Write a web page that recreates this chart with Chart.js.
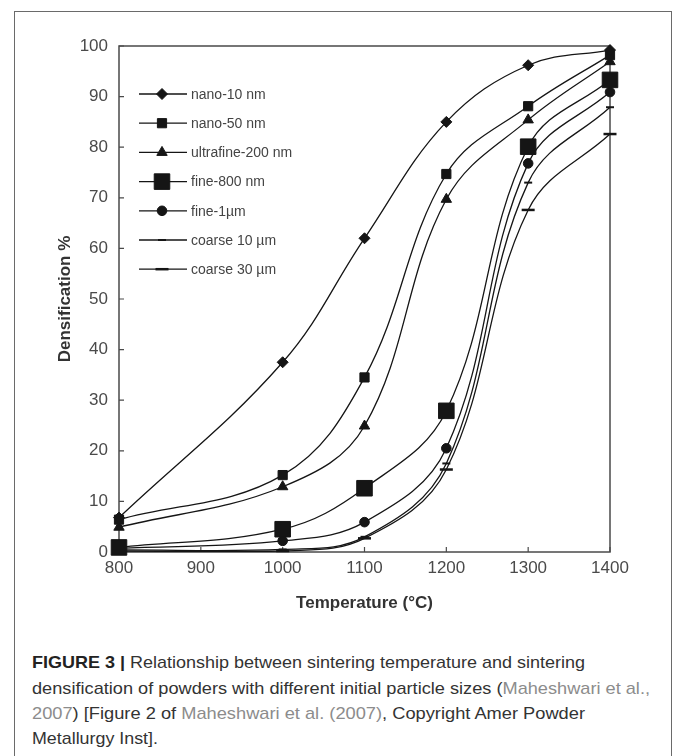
<!DOCTYPE html>
<html>
<head>
<meta charset="utf-8">
<script src="https://cdn.jsdelivr.net/npm/chart.js@4.4.1/dist/chart.umd.min.js"></script>
<style>
  html, body { margin: 0; padding: 0; background: #fff; }
  body { width: 673px; height: 756px; position: relative; overflow: hidden; font-family: 'Liberation Sans', Arial, sans-serif; }
  .frame { position: absolute; left: 14px; top: 11px; width: 656px; height: 760px; border: 1px solid #6a6a6a; border-bottom: none; }
  .chart-box { position: absolute; left: 0; top: 0; width: 673px; height: 640px; }
  .cap-line { position: absolute; left: 32px; font-size: 17px; line-height: 20px; color: #333; white-space: nowrap; transform-origin: 0 0; }
  .cap-line b { color: #222; }
  .cite { color: #8c8c8c; }
</style>
</head>
<body>
<div class="frame"></div>
<div class="chart-box"><canvas id="chart"></canvas></div>

<div class="cap-line" data-w="553" style="top:653px"><b>FIGURE 3 |</b> Relationship between sintering temperature and sintering</div>
<div class="cap-line" data-w="618" style="top:678.5px">densification of powders with different initial particle sizes (<span class="cite">Maheshwari et al.,</span></div>
<div class="cap-line" data-w="553" style="top:704px"><span class="cite">2007</span>) [Figure 2 of <span class="cite">Maheshwari et al. (2007)</span>, Copyright Amer Powder</div>
<div class="cap-line" data-w="126" style="top:729px">Metallurgy Inst].</div>

<script>
const temps = [800, 1000, 1100, 1200, 1300, 1400];
const nano10 = [6.8, 37.5, 62, 85, 96.2, 99.2];
const nano50 = [6.4, 15.2, 34.5, 74.7, 88.1, 98.2];
const ultra200 = [4.9, 12.9, 24.9, 69.7, 85.4, 96.9];
const fine800 = [0.9, 4.5, 12.6, 27.9, 80.1, 93.3];
const fine1um = [0.7, 2.2, 5.9, 20.5, 76.8, 90.9];
const coarse10 = [0.4, 0.5, 3.0, 17.5, 73.0, 87.9];
const coarse30 = [0.2, 0.2, 2.7, 16.3, 67.6, 82.6];

const seriesLabels = ['nano-10 nm', 'nano-50 nm', 'ultrafine-200 nm', 'fine-800 nm', 'fine-1\u00b5m', 'coarse 10 \u00b5m', 'coarse 30 \u00b5m'];
const xTicks = [800, 900, 1000, 1100, 1200, 1300, 1400];

const ink = '#151515';
const axisColor = '#4a4a4a';

const makeSet = (label, values, style, radius, bw) => ({
  label,
  data: temps.map((t, i) => ({ x: t, y: values[i] })),
  borderColor: ink,
  borderWidth: 1.3,
  tension: 0.38,
  pointStyle: style,
  pointRadius: radius,
  pointHoverRadius: radius,
  pointBackgroundColor: ink,
  pointBorderColor: ink,
  pointBorderWidth: bw,
  clip: false,
});

const datasets = [
  makeSet(seriesLabels[0], nano10, 'rectRot', 5.5, 1),
  makeSet(seriesLabels[1], nano50, 'rect', 6.5, 1),
  makeSet(seriesLabels[2], ultra200, 'triangle', 6, 1),
  makeSet(seriesLabels[3], fine800, 'rect', 11, 1),
  makeSet(seriesLabels[4], fine1um, 'circle', 4.8, 1),
  makeSet(seriesLabels[5], coarse10, 'line', 4, 2),
  makeSet(seriesLabels[6], coarse30, 'line', 6.5, 2.5),
];

// box around the plot area plus inward tick marks
const frameTicks = {
  id: 'frameTicks',
  beforeDatasetsDraw(chart) {
    const { ctx, chartArea: a, scales } = chart;
    ctx.save();
    ctx.strokeStyle = axisColor;
    ctx.lineWidth = 1.5;
    ctx.strokeRect(a.left, a.top, a.right - a.left, a.bottom - a.top);
    ctx.lineWidth = 1.2;
    ctx.beginPath();
    scales.y.ticks.forEach((t) => {
      const y = scales.y.getPixelForValue(t.value);
      ctx.moveTo(a.left, y);
      ctx.lineTo(a.left + 5, y);
    });
    scales.x.ticks.forEach((t) => {
      const x = scales.x.getPixelForValue(t.value);
      ctx.moveTo(x, a.bottom);
      ctx.lineTo(x, a.bottom - 5);
    });
    ctx.stroke();
    ctx.restore();
  },
};

// legend inside the plot: line sample with the marker on it
const insideLegend = {
  id: 'insideLegend',
  afterDatasetsDraw(chart) {
    const { ctx, chartArea: a } = chart;
    const x0 = a.left + 20;
    const x1 = a.left + 68;
    const xm = a.left + 43;
    ctx.save();
    chart.data.datasets.forEach((ds, i) => {
      const y = a.top + 48 + i * 29.2;
      ctx.strokeStyle = ink;
      ctx.lineWidth = 1.3;
      ctx.beginPath();
      ctx.moveTo(x0, y);
      ctx.lineTo(x1, y);
      ctx.stroke();
      ctx.fillStyle = ink;
      ctx.lineWidth = ds.pointBorderWidth;
      Chart.helpers.drawPoint(ctx, {
        pointStyle: ds.pointStyle,
        radius: ds.pointRadius,
        borderWidth: ds.pointBorderWidth,
        rotation: 0,
      }, xm, y);
      ctx.fillStyle = '#444';
      ctx.font = '14px "Liberation Sans", Arial, sans-serif';
      ctx.textBaseline = 'middle';
      ctx.textAlign = 'left';
      ctx.fillText(ds.label, x1 + 4, y + 1);
    });
    ctx.restore();
  },
};

new Chart(document.getElementById('chart'), {
  type: 'line',
  data: { datasets },
  options: {
    responsive: true,
    maintainAspectRatio: false,
    animation: false,
    layout: { padding: { left: 0, right: 63, top: 46, bottom: 0 } },
    plugins: {
      legend: { display: false },
      tooltip: { enabled: false },
    },
    scales: {
      x: {
        type: 'linear',
        min: 800,
        max: 1400,
        afterBuildTicks: (scale) => {
          scale.ticks = xTicks.map((v) => ({ value: v }));
        },
        afterFit: (scale) => { scale.height = 88; },
        grid: { display: false, drawTicks: false },
        border: { display: false },
        ticks: {
          padding: 6,
          color: '#4a4a4a',
          font: { family: 'Liberation Sans', size: 17 },
          callback: (v) => String(v),
        },
        title: {
          display: true,
          text: 'Temperature (\u00b0C)',
          color: '#333',
          font: { family: 'Liberation Sans', size: 17, weight: 'bold' },
          padding: { top: 0, bottom: 26 },
        },
      },
      y: {
        min: 0,
        max: 100,
        afterFit: (scale) => { scale.width = 119; },
        grid: { display: false, drawTicks: false },
        border: { display: false },
        ticks: {
          stepSize: 10,
          padding: 11,
          color: '#4a4a4a',
          font: { family: 'Liberation Sans', size: 17 },
        },
        title: {
          display: true,
          text: 'Densification %',
          color: '#333',
          font: { family: 'Liberation Sans', size: 17, weight: 'bold' },
          padding: { top: 55, bottom: 0 },
        },
      },
    },
  },
  plugins: [frameTicks, insideLegend],
});

document.querySelectorAll('.cap-line').forEach((el) => {
  const target = Number(el.dataset.w);
  const w = el.getBoundingClientRect().width;
  el.style.transform = `scaleX(${target / w})`;
});
</script>
</body>
</html>
